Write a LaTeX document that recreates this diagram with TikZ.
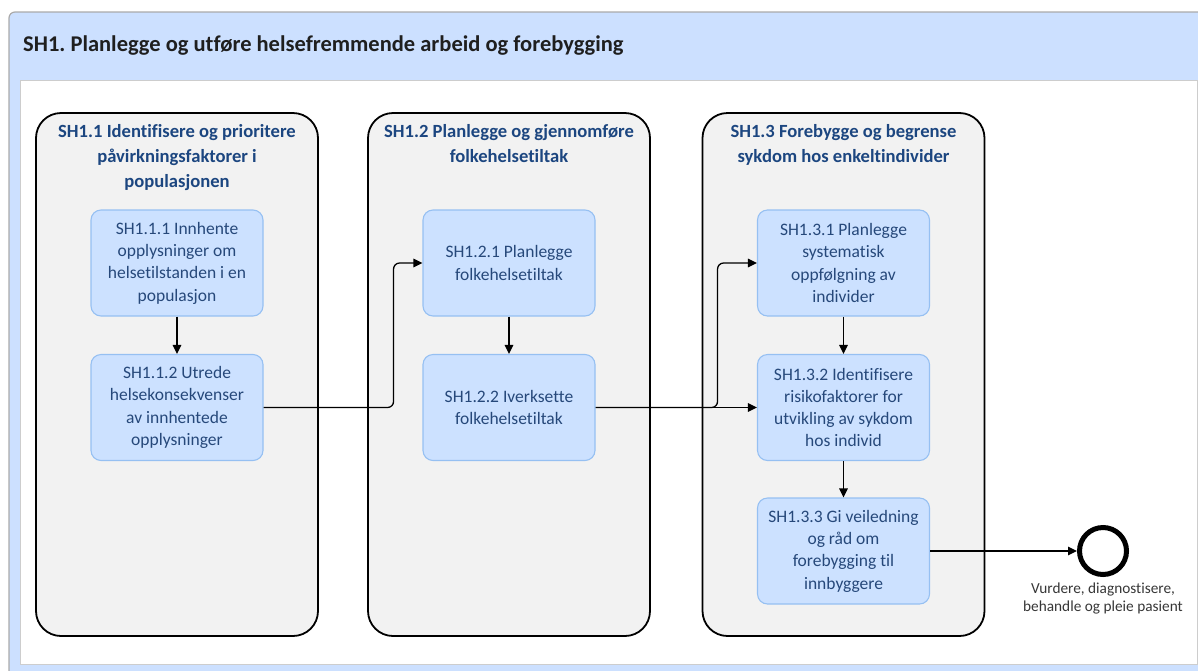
\documentclass[tikz,border=0pt]{standalone}
\usepackage{fontspec}
\setmainfont{Carlito}[Ligatures=NoCommon]
\usetikzlibrary{arrows.meta}
\frenchspacing
\definecolor{poolblue}{RGB}{204,224,255}
\definecolor{poolline}{RGB}{170,170,170}
\definecolor{innerline}{RGB}{205,205,205}
\definecolor{lanefill}{RGB}{242,242,242}
\definecolor{lanetext}{RGB}{28,70,128}
\definecolor{taskfill}{RGB}{204,225,255}
\definecolor{taskline}{RGB}{150,192,242}
\definecolor{tasktext}{RGB}{38,72,122}
\definecolor{labeltext}{RGB}{55,55,55}
\begin{document}
\begin{tikzpicture}[x=1pt,y=-1pt,
  lanebox/.style={draw=black, line width=1.8pt, fill=lanefill, rounded corners=25pt,
    inner sep=0pt, minimum width=282pt, minimum height=523pt},
  lanetitle/.style={anchor=north, align=center, text=lanetext, inner sep=0pt,
    font=\bfseries\fontsize{18.6}{25}\selectfont},
  taskbox/.style={draw=taskline, line width=1.1pt, fill=taskfill, rounded corners=10pt,
    minimum width=172pt, minimum height=106pt, inner sep=0pt, align=center,
    text=tasktext, font=\fontsize{17.5}{22.3}\selectfont},
  flow/.style={draw=black, line width=1.3pt, -{Triangle[length=9pt,width=8.5pt]}},
  endevent/.style={circle, draw=black, line width=5pt, fill=white, minimum size=47pt, inner sep=0pt}
]
\useasboundingbox (0,0) rectangle (1198,670);
\clip (0,0) rectangle (1198,670);

% pool with header band and white content area
\filldraw[fill=poolblue, draw=poolline, line width=1.2pt, rounded corners=6pt] (9,12) rectangle (1240,700);
\filldraw[fill=white, draw=innerline, line width=1pt] (20,80) rectangle (1197,664);
\node[anchor=west, inner sep=0pt, text=black!88, font=\bfseries\fontsize{22.5}{26}\selectfont] (title) at (23,46)
  {SH1. Planlegge og utføre helsefremmende arbeid og forebygging};

% lanes
\node[lanebox] (lane1) at (177,374.5) {};
\node[lanebox] (lane2) at (509,374.5) {};
\node[lanebox] (lane3) at (843.5,374.5) {};
\node[lanetitle] (lt1) at (177,124) {SH1.1 Identifisere og prioritere\\påvirkningsfaktorer i\\populasjonen};
\node[lanetitle] (lt2) at (509,124) {SH1.2 Planlegge og gjennomføre\\folkehelsetiltak};
\node[lanetitle] (lt3) at (843.5,124) {SH1.3 Forebygge og begrense\\sykdom hos enkeltindivider};

% tasks
\node[taskbox] (t111) at (177,263) {SH1.1.1 Innhente\\opplysninger om\\helsetilstanden i en\\populasjon};
\node[taskbox] (t112) at (177,407.5) {SH1.1.2 Utrede\\helsekonsekvenser\\av innhentede\\opplysninger};
\node[taskbox] (t121) at (509,263) {SH1.2.1 Planlegge\\folkehelsetiltak};
\node[taskbox] (t122) at (509,407.5) {SH1.2.2 Iverksette\\folkehelsetiltak};
\node[taskbox] (t131) at (843.5,263) {SH1.3.1 Planlegge\\systematisk\\oppfølgning av\\individer};
\node[taskbox] (t132) at (843.5,407.5) {SH1.3.2 Identifisere\\risikofaktorer for\\utvikling av sykdom\\hos individ};
\node[taskbox] (t133) at (843.5,551) {SH1.3.3 Gi veiledning\\og råd om\\forebygging til\\innbyggere};

% end event
\node[endevent] (end) at (1103,551) {};
\node[anchor=north, align=center, inner sep=0pt, text=labeltext, font=\fontsize{15.3}{17.5}\selectfont] (endlabel)
  at (1103,583) {Vurdere, diagnostisere,\\behandle og pleie pasient};

% sequence flows
\draw[flow] (t111) -- (t112);
\draw[flow] (t121) -- (t122);
\draw[flow] (t131) -- (t132);
\draw[flow] (t132) -- (t133);
\draw[flow, rounded corners=6pt] (t112.east) -- ++(130,0) |- (t121.west);
\draw[flow] (t122.east) -- (t132.west);
\draw[flow, rounded corners=6pt] (t122.east) -- ++(122,0) |- (t131.west);
\draw[flow] (t133.east) -- (end.west);
\end{tikzpicture}
\end{document}
